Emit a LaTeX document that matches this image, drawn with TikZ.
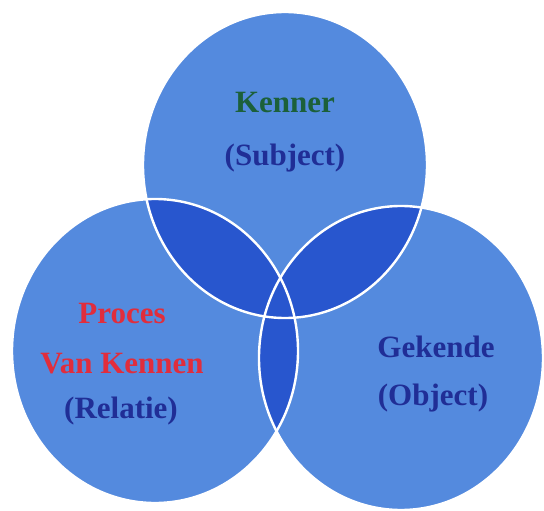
\documentclass[tikz,border=0pt]{standalone}
\usepackage{fontspec}
\setmainfont{Liberation Serif}

\definecolor{setblue}{RGB}{84,138,222}
\definecolor{lensblue}{RGB}{40,86,206}
\definecolor{kennergreen}{RGB}{28,96,58}
\definecolor{labelblue}{RGB}{32,46,150}
\definecolor{procesred}{RGB}{225,45,60}

\tikzset{
  setfill/.style={fill=setblue},
  lensfill/.style={fill=lensblue},
  setline/.style={draw=white,line width=2.4pt},
  topr/.style={x radius=142pt,y radius=153pt},
  leftr/.style={x radius=143pt,y radius=152pt},
  rightr/.style={x radius=142pt,y radius=152pt},
  lbl/.style={anchor=base,inner sep=0pt,font=\fontsize{31}{37}\selectfont\bfseries},
}

\begin{document}
\begin{tikzpicture}[x=1pt,y=-1pt]
  \useasboundingbox (0,0) rectangle (544,511);
  % centres of the three sets
  \coordinate (kc) at (285,165);
  \coordinate (pc) at (155,351);
  \coordinate (gc) at (401,358);

  \fill[setfill] (kc) ellipse [topr];
  \fill[setfill] (pc) ellipse [leftr];
  \fill[setfill] (gc) ellipse [rightr];

  % overlaps
  \begin{scope}
    \clip (kc) ellipse [topr];
    \fill[lensfill] (pc) ellipse [leftr];
    \fill[lensfill] (gc) ellipse [rightr];
  \end{scope}
  \begin{scope}
    \clip (pc) ellipse [leftr];
    \fill[lensfill] (gc) ellipse [rightr];
  \end{scope}

  \draw[setline] (kc) ellipse [topr];
  \draw[setline] (pc) ellipse [leftr];
  \draw[setline] (gc) ellipse [rightr];

  \node[lbl,text=kennergreen] (kenner) at (285,113) {Kenner};
  \node[lbl,text=labelblue] (subject) at (285,165) {(Subject)};

  \node[lbl,text=procesred] (proces) at (122,323) {Proces};
  \node[lbl,text=procesred] (vankennen) at (122,373) {Van Kennen};
  \node[lbl,text=labelblue] (relatie) at (121,418) {(Relatie)};

  \node[lbl,text=labelblue] (gekende) at (436,357) {Gekende};
  \node[lbl,text=labelblue] (object) at (433,405) {(Object)};
\end{tikzpicture}
\end{document}
